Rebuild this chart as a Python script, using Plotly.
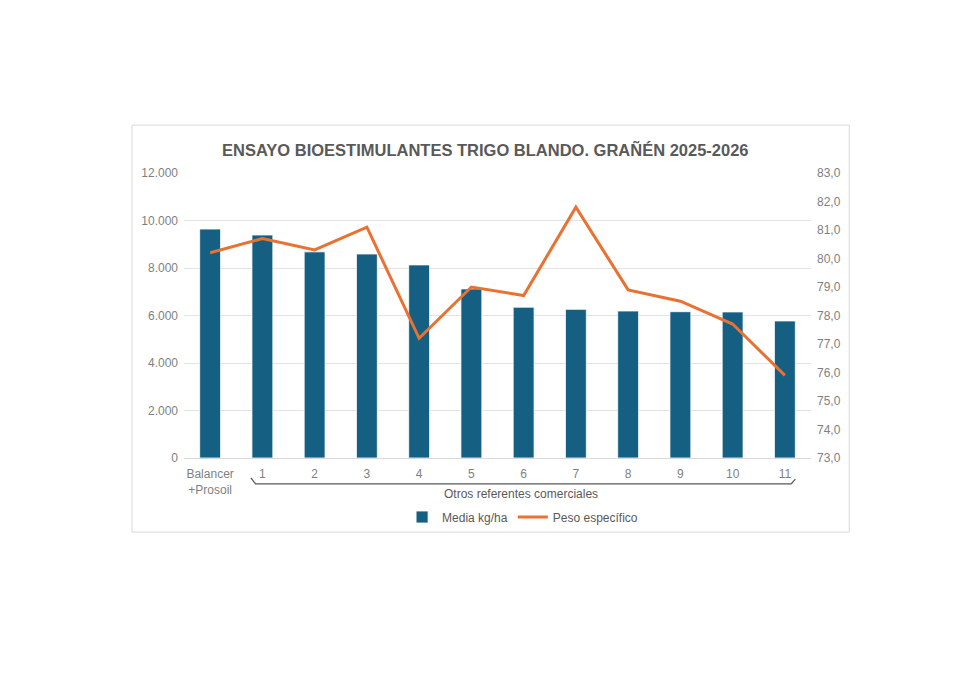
import plotly.graph_objects as go

# datos del ensayo
categorias = ["Balancer<br>+Prosoil", "1", "2", "3", "4", "5", "6", "7", "8", "9", "10", "11"]
media_kg_ha = [9640, 9390, 8680, 8590, 8130, 7120, 6350, 6260, 6190, 6160, 6150, 5770]
peso_especifico = [80.2, 80.7, 80.3, 81.1, 77.2, 79.0, 78.7, 81.8, 78.9, 78.5, 77.7, 75.9]
etiqueta_grupo = "Otros referentes comerciales"

gris = "#595959"
gris_claro = "#7F7F7F"
azul = "#156082"
naranja = "#E97132"

fig = go.Figure()

fig.add_trace(go.Bar(
    x=categorias, y=media_kg_ha, name="Media kg/ha",
    marker=dict(color=azul, line=dict(color="#FFFFFF", width=0.8)),
))
fig.add_trace(go.Scatter(
    x=categorias, y=peso_especifico, name="Peso específico",
    mode="lines", line=dict(color=naranja, width=3), yaxis="y2",
))

# marco del grafico
fig.add_shape(type="rect", xref="paper", yref="paper",
              x0=-0.083, x1=1.061, y0=-0.26, y1=1.168,
              line=dict(color="#D9D9D9", width=1), layer="below")

# llave bajo los referentes comerciales
fig.add_shape(type="path", xref="x", yref="paper",
              path="M 0.78,-0.07 L 0.87,-0.091 L 11.12,-0.091 L 11.2,-0.074",
              line=dict(color=gris, width=1.3))
fig.add_annotation(x=5.95, y=-0.126, xref="x", yref="paper", text=etiqueta_grupo,
                   showarrow=False, font=dict(size=12, color=gris), yanchor="middle")

fig.update_layout(
    width=980, height=693,
    paper_bgcolor="white", plot_bgcolor="white",
    separators=",.",
    font=dict(family="Liberation Sans, Arial, sans-serif", color=gris, size=12),
    margin=dict(l=176, r=177, t=165, b=243),
    title=dict(text="<b>ENSAYO BIOESTIMULANTES TRIGO BLANDO. GRAÑÉN 2025-2026</b>",
               x=0.487, xanchor="center", y=0.795, yanchor="middle", yref="container",
               font=dict(size=16.5, color=gris)),
    bargap=0.6,
    showlegend=True,
    legend=dict(orientation="h", x=0.54, xanchor="center", y=-0.207, yanchor="middle",
                font=dict(size=12, color=gris), itemwidth=30),
    xaxis=dict(showgrid=False, showline=True, linecolor="#D9D9D9", ticks="",
               ticklabelstandoff=5, tickfont=dict(size=12, color=gris_claro)),
    yaxis=dict(range=[0, 12000], dtick=2000, tickformat=",d", showgrid=True,
               gridcolor="#E3E3E3", zeroline=False, ticks="", ticklabelstandoff=5,
               tickfont=dict(size=12, color=gris_claro)),
    yaxis2=dict(range=[73, 83], dtick=1, tickformat=".1f", overlaying="y", side="right",
                showgrid=False, zeroline=False, ticks="", ticklabelstandoff=5,
                tickfont=dict(size=12, color=gris_claro)),
)

fig.write_html("out.html")
